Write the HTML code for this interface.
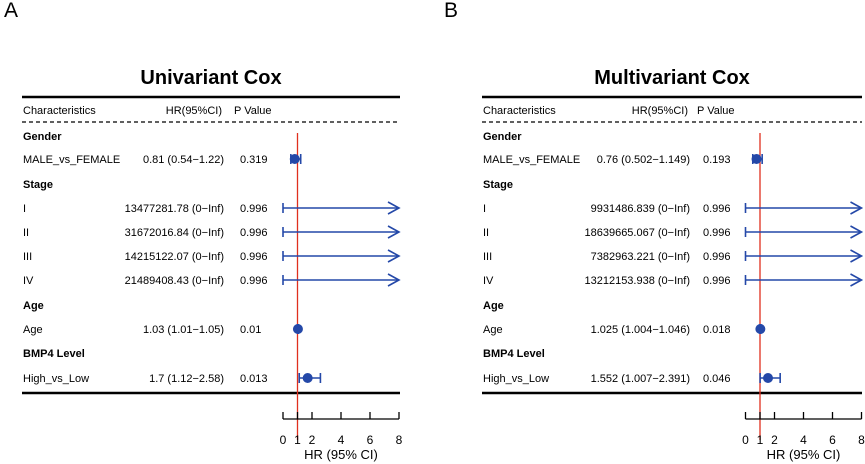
<!DOCTYPE html>
<html><head><meta charset="utf-8"><style>
html,body{margin:0;padding:0;background:#fff;width:865px;height:464px;overflow:hidden}
svg text{font-family:"Liberation Sans",Arial,sans-serif}
</style></head><body>
<svg id="s" width="865" height="464" xmlns="http://www.w3.org/2000/svg"></svg>
<script>
const rowLabels = ["Gender","MALE_vs_FEMALE","Stage","I","II","III","IV","Age","Age","BMP4 Level","High_vs_Low"];
const rowIsHeader = [true,false,true,false,false,false,false,true,false,true,false];
const uniHR = [null,0.81,null,13477281.78,31672016.84,14215122.07,21489408.43,null,1.03,null,1.7];
const uniLow = [null,0.54,null,0,0,0,0,null,1.01,null,1.12];
const uniHigh = [null,1.22,null,Infinity,Infinity,Infinity,Infinity,null,1.05,null,2.58];
const uniText = ["","0.81 (0.54\u22121.22)","","13477281.78 (0\u2212Inf)","31672016.84 (0\u2212Inf)","14215122.07 (0\u2212Inf)","21489408.43 (0\u2212Inf)","","1.03 (1.01\u22121.05)","","1.7 (1.12\u22122.58)"];
const uniP = ["","0.319","","0.996","0.996","0.996","0.996","","0.01","","0.013"];
const mulHR = [null,0.76,null,9931486.839,18639665.067,7382963.221,13212153.938,null,1.025,null,1.552];
const mulLow = [null,0.502,null,0,0,0,0,null,1.004,null,1.007];
const mulHigh = [null,1.149,null,Infinity,Infinity,Infinity,Infinity,null,1.046,null,2.391];
const mulText = ["","0.76 (0.502\u22121.149)","","9931486.839 (0\u2212Inf)","18639665.067 (0\u2212Inf)","7382963.221 (0\u2212Inf)","13212153.938 (0\u2212Inf)","","1.025 (1.004\u22121.046)","","1.552 (1.007\u22122.391)"];
const mulP = ["","0.193","","0.996","0.996","0.996","0.996","","0.018","","0.046"];
const ticks = [0,1,2,4,6,8];

const NS="http://www.w3.org/2000/svg";
const svg=document.getElementById('s');
function mk(tag,attrs,parent,text){const e=document.createElementNS(NS,tag);for(const k in attrs)e.setAttribute(k,attrs[k]);if(text!==undefined)e.textContent=text;(parent||svg).appendChild(e);return e;}
const rowY=[136,159,184,208,232,256,280,305,329,353,378];
const BLUE="#2448a8";

function panel(o){
  const g=mk('g',{});
  
  
  const x=v=>o.x0+(Math.min(v,8))*(o.x8-o.x0)/8;
  let t=mk('text',{x:o.letterX,y:17,'font-size':21},g,o.letter);
  
  t=mk('text',{x:o.titleX,y:84,'font-size':20,'font-weight':'bold','text-anchor':'middle'},g,o.title);
  
  let l=mk('line',{x1:o.L,x2:o.R,y1:97,y2:97,stroke:'#000','stroke-width':2.5},g);
  
  t=mk('text',{x:o.L+1,y:114,'font-size':11},g,'Characteristics');
  
  t=mk('text',{x:o.hrEnd,y:114,'font-size':11,'text-anchor':'end'},g,'HR(95%CI)');
  
  t=mk('text',{x:o.pX-6,y:114,'font-size':11},g,'P Value');
  
  l=mk('line',{x1:o.L,x2:o.R,y1:122,y2:122,stroke:'#000','stroke-width':1.2,'stroke-dasharray':'4,3'},g);
  
  l=mk('line',{x1:o.L,x2:o.R,y1:393,y2:393,stroke:'#000','stroke-width':2.5},g);
  
  l=mk('line',{x1:x(1),x2:x(1),y1:133,y2:440,stroke:'#e0301e','stroke-width':1.3},g);
  
  for(let i=0;i<rowLabels.length;i++){
    const y=rowY[i];
    t=mk('text',{x:o.L+1,y:y+4,'font-size':11,'font-weight':rowIsHeader[i]?'bold':'normal'},g,rowLabels[i]);
    
    if(o.hr[i]===null)continue;
    t=mk('text',{x:o.hrEnd+2,y:y+4,'font-size':11,'text-anchor':'end'},g,o.text[i]);
    
    t=mk('text',{x:o.pX,y:y+4,'font-size':11},g,o.p[i]);
    
    const xl=x(o.low[i]),xh=x(o.high[i]);
    l=mk('line',{x1:xl,x2:xh,y1:y,y2:y,stroke:BLUE,'stroke-width':1.6},g);
    
    l=mk('line',{x1:xl,x2:xl,y1:y-5,y2:y+5,stroke:BLUE,'stroke-width':1.6},g);
    
    if(o.high[i]===Infinity){
      const a=mk('polyline',{points:`${xh-11},${y-6} ${xh},${y} ${xh-11},${y+6}`,fill:'none',stroke:BLUE,'stroke-width':1.6},g);
      
    }else{
      l=mk('line',{x1:xh,x2:xh,y1:y-5,y2:y+5,stroke:BLUE,'stroke-width':1.6},g);
      
      const c=mk('circle',{cx:x(o.hr[i]),cy:y,r:5,fill:BLUE},g);
      
    }
  }
  l=mk('line',{x1:x(0),x2:x(8),y1:419,y2:419,stroke:'#000','stroke-width':1.3},g);
  
  ticks.forEach(v=>{
    const tk=mk('line',{x1:x(v),x2:x(v),y1:412,y2:419,stroke:'#000','stroke-width':1.3},g);
    
    const tl=mk('text',{x:x(v),y:444,'font-size':12,'text-anchor':'middle'},g,String(v));
    
  });
  t=mk('text',{x:(x(0)+x(8))/2,y:459,'font-size':13,'text-anchor':'middle'},g,'HR (95% CI)');
  
}
panel({name:'panel-a-univariant',letter:'A',letterX:4,title:'Univariant Cox',titleX:211,L:22,R:400,hrEnd:222,pX:240,x0:283,x8:399,hr:uniHR,low:uniLow,high:uniHigh,text:uniText,p:uniP});
panel({name:'panel-b-multivariant',letter:'B',letterX:444,title:'Multivariant Cox',titleX:672,L:482,R:862,hrEnd:688,pX:703,x0:745.5,x8:861.5,hr:mulHR,low:mulLow,high:mulHigh,text:mulText,p:mulP});
</script>
</body></html>
